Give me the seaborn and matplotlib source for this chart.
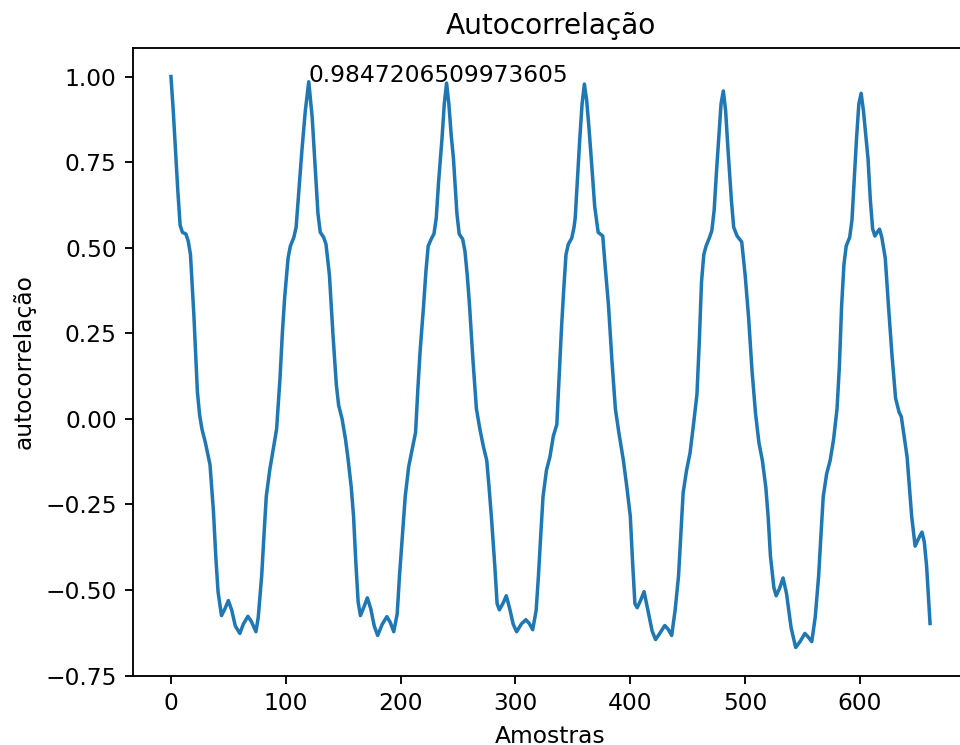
import matplotlib
matplotlib.use("Agg")
import matplotlib.pyplot as plt
import seaborn as sns

# Autocorrelation values by lag (samples)
lags = [
    0, 2, 4, 6, 8, 10, 13, 15, 17, 20, 23, 25, 27, 30, 34, 37, 39, 41, 44, 47,
    50, 53, 56, 60, 63, 67, 70, 74, 76, 79, 81, 83, 86, 89, 92,
    95, 97, 99, 102, 104, 107, 109, 111, 114, 117, 120, 123, 125, 128, 130,
    133, 135, 138, 141, 144, 146, 149, 152, 154, 157, 159, 161, 163, 165, 168,
    171, 174, 177, 180, 184, 188, 191, 194, 197, 199, 202, 204, 207, 210, 213,
    215, 217, 220, 222, 224, 227, 229, 231, 233, 236, 238, 240, 242, 244, 246,
    249, 251, 254, 256, 258, 260, 263, 266, 269, 272, 275, 277, 279, 282, 284,
    286, 289, 292, 295, 298, 301, 305, 309, 312, 315, 318, 320, 322, 324, 327,
    330, 333, 336,
    338, 340, 342, 344, 346, 349, 351, 352, 354, 356, 358, 360, 362, 364, 366,
    369, 372, 376, 378, 381, 384, 387, 390, 394, 397, 400, 402, 404, 406, 409,
    412, 416, 419, 422, 426, 430, 433, 436, 439, 442, 444, 446, 449, 452, 455,
    458, 460, 462, 464, 466, 469, 471, 473, 475, 477, 479, 481, 483, 485, 488,
    490, 493, 497, 500, 503, 506, 509, 512, 515, 518, 520, 522, 525, 527, 530,
    533, 536, 540, 544, 548, 552, 555, 558, 561, 564, 566, 568, 571, 574, 577,
    580, 582, 584, 586, 588, 591, 593, 595, 597, 599, 601, 603, 605, 607, 609,
    611, 613, 615, 617, 619, 622, 625, 628, 631, 634, 636, 638, 641, 643, 645,
    648, 651, 654, 656, 658, 661,
]
acf = [
    1.000, 0.900, 0.780, 0.665, 0.565, 0.545, 0.540, 0.520, 0.480, 0.300,
    0.080, 0.010, -0.030, -0.070, -0.134, -0.270, -0.400, -0.505, -0.575, -0.555,
    -0.531, -0.560, -0.605, -0.627, -0.600, -0.577, -0.592, -0.622, -0.580, -0.459,
    -0.340, -0.227, -0.150, -0.090, -0.030,
    0.121, 0.250, 0.354, 0.470, 0.505, 0.530, 0.560, 0.650, 0.783, 0.900,
    0.9847206509973605, 0.880, 0.770, 0.600, 0.545,
    0.530, 0.510, 0.420, 0.250, 0.100, 0.040, 0.000, -0.060, -0.111, -0.200,
    -0.285, -0.420, -0.535, -0.575, -0.550,
    -0.523, -0.555, -0.605, -0.633, -0.600, -0.578, -0.595, -0.622, -0.570, -0.459,
    -0.320, -0.227, -0.140, -0.090, -0.040,
    0.087, 0.200, 0.331, 0.430, 0.505, 0.528, 0.540, 0.586, 0.690, 0.818,
    0.920, 0.981, 0.920, 0.830, 0.760,
    0.600, 0.540, 0.525, 0.490, 0.420, 0.331, 0.170, 0.029, -0.030, -0.080,
    -0.122, -0.200, -0.285, -0.430, -0.540,
    -0.558, -0.540, -0.517, -0.555, -0.600, -0.622, -0.600, -0.587, -0.598, -0.616,
    -0.560, -0.459, -0.340, -0.227, -0.150,
    -0.111, -0.050, -0.017,
    0.121, 0.260, 0.377, 0.480, 0.510, 0.528, 0.560, 0.586, 0.700, 0.818,
    0.920, 0.978, 0.930, 0.850, 0.760,
    0.620, 0.545, 0.534, 0.450, 0.331, 0.170, 0.029, -0.040, -0.122, -0.200,
    -0.285, -0.420, -0.540, -0.552, -0.530,
    -0.505, -0.570, -0.620, -0.645, -0.625, -0.604, -0.615, -0.633, -0.560, -0.459,
    -0.340, -0.216, -0.150, -0.100, -0.017,
    0.070, 0.220, 0.400, 0.480, 0.505, 0.530, 0.550, 0.609, 0.720, 0.818,
    0.920, 0.958, 0.900, 0.790, 0.640,
    0.560, 0.534, 0.517, 0.420, 0.296, 0.140, 0.017, -0.070, -0.122, -0.200,
    -0.285, -0.400, -0.493, -0.517, -0.495,
    -0.465, -0.510, -0.610, -0.668, -0.650, -0.627, -0.638, -0.651, -0.580, -0.459,
    -0.340, -0.227, -0.160, -0.122, -0.060,
    0.029, 0.150, 0.330, 0.450, 0.505, 0.530, 0.580, 0.700, 0.820, 0.920,
    0.951, 0.900, 0.830, 0.760, 0.640,
    0.555, 0.534, 0.545, 0.554, 0.530, 0.470, 0.320, 0.180, 0.060, 0.020,
    0.006, -0.040, -0.111, -0.200, -0.285,
    -0.372, -0.350, -0.331, -0.360, -0.430, -0.598,
]

title = "Autocorrelação"
x_label = "Amostras"
y_label = "autocorrelação"

DPI = 168
fig = plt.figure(figsize=(960 / DPI, 745 / DPI), dpi=DPI)
# the plotting area runs past the right edge of the canvas
ax = fig.add_axes([133 / 960, 69 / 745, 835 / 960, 628 / 745])

sns.lineplot(x=lags, y=acf, ax=ax, color="#1f77b4", linewidth=1.5,
             estimator=None, sort=True)

# Highest peak after lag 0, labelled with its value
search = [i for i, lag in enumerate(lags) if lag > 60]
best = max(search, key=lambda i: acf[i])
ax.text(lags[best], acf[best], str(acf[best]), fontsize=10)

ax.set_title(title, fontsize=12)
ax.set_xlabel(x_label, fontsize=10)
ax.set_ylabel(y_label, fontsize=10)
ax.set_yticks([-0.75, -0.5, -0.25, 0.0, 0.25, 0.5, 0.75, 1.0])
ax.set_xticks([0, 100, 200, 300, 400, 500, 600])
ax.spines["right"].set_visible(False)

fig.savefig("out.png", dpi=DPI)
